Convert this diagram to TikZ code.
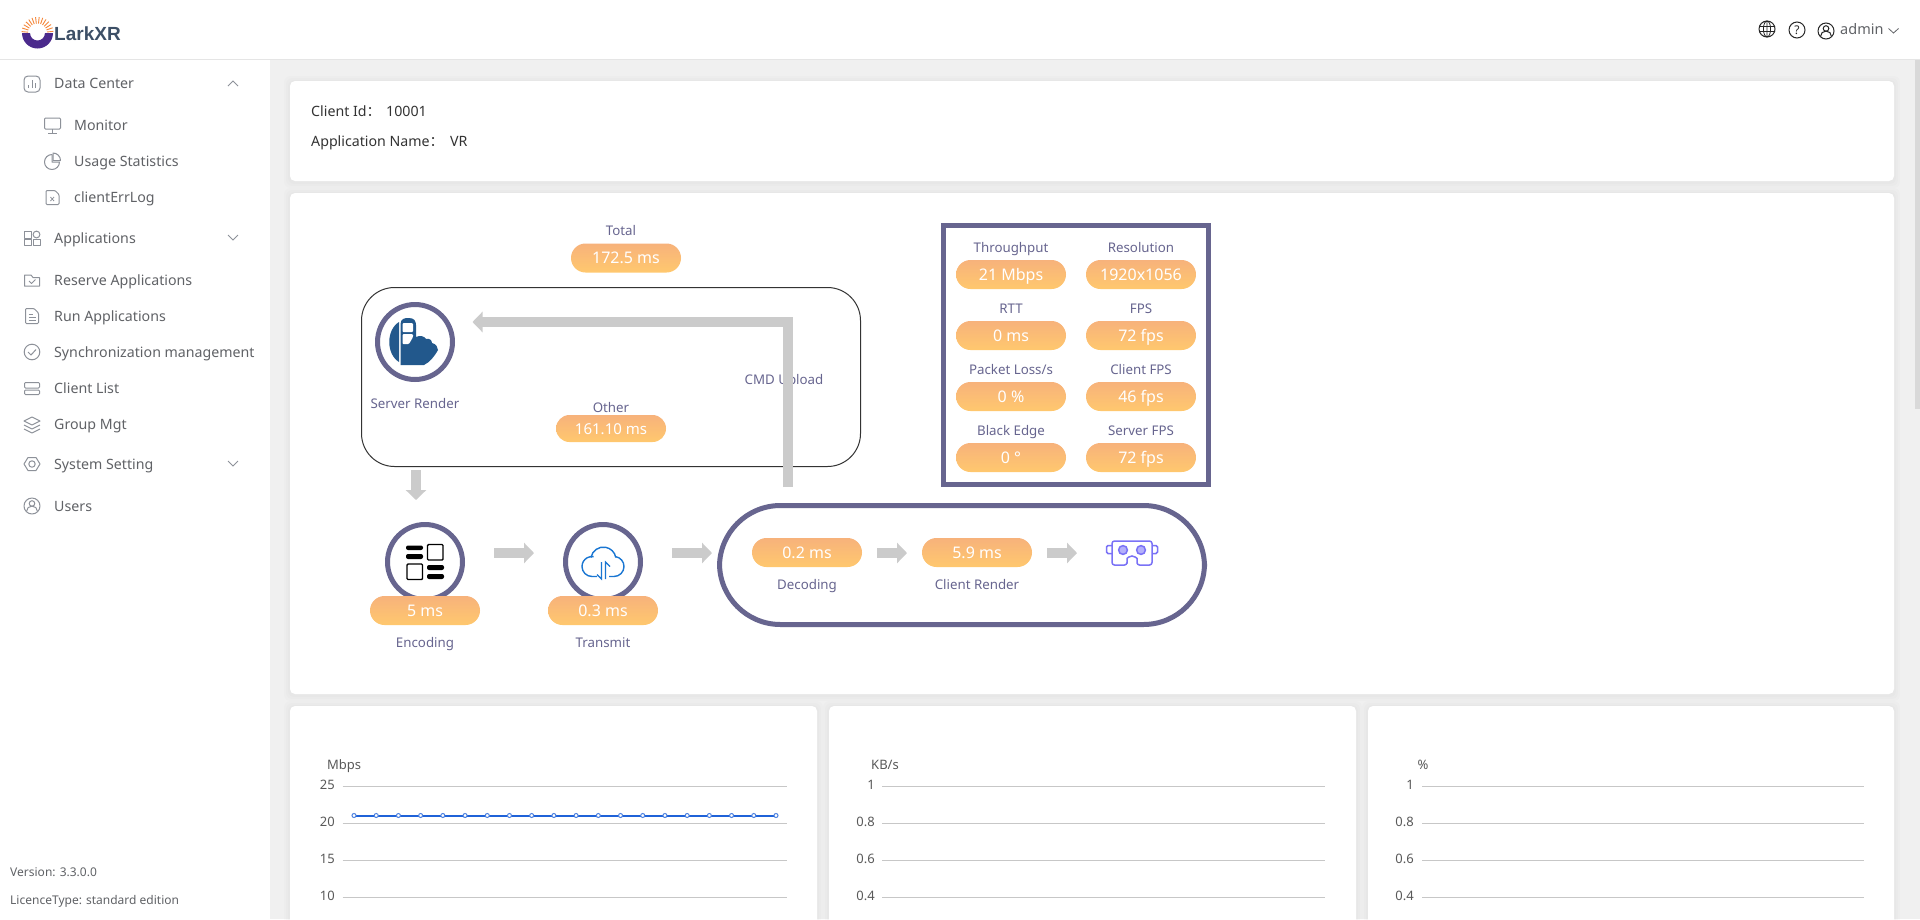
\documentclass[tikz,border=0pt]{standalone}
\usepackage{fontspec}
\setmainfont{Noto Sans}
\newfontfamily\cjk{Noto Sans CJK SC}
\newfontfamily\brandf{Liberation Sans}
\usetikzlibrary{arrows.meta,shadings}
\definecolor{pagebg}{HTML}{F0F0F0}
\definecolor{scrollc}{HTML}{D9D9D9}
\definecolor{ink}{HTML}{67658F}
\definecolor{flowgray}{HTML}{CBCBCB}
\definecolor{menu}{HTML}{606266}
\definecolor{iconc}{HTML}{8D9199}
\definecolor{pilltop}{HTML}{F7B27B}
\definecolor{pillbot}{HTML}{FFC86E}
\definecolor{vrc}{HTML}{7A72F6}
\definecolor{vrf}{HTML}{B4B0FB}
\definecolor{serverblue}{HTML}{22588C}
\definecolor{cloudblue}{HTML}{1976D2}
\definecolor{logop}{HTML}{4B2A8C}
\definecolor{logoo}{HTML}{F5873A}
\definecolor{logot}{HTML}{3D4F66}
\definecolor{serieblue}{HTML}{1F62D8}
\newcommand{\fs}[1]{\fontsize{#1}{#1}\selectfont}
\tikzset{
  txt/.style={inner sep=0pt,text height=13pt,text depth=3pt,font=\fs{14}},
  menuitem/.style={txt,anchor=west,text=menu,font=\fs{14.2}},
  lab/.style={txt,text=ink,font=\fs{13.3}},
  pillnode/.style={rounded corners=14.5pt,minimum width=110pt,minimum height=29pt,inner sep=0pt,
    top color=pilltop,bottom color=pillbot,text=white,font=\fs{16},text height=11.5pt,text depth=0pt},
  flow/.style={draw=flowgray,line width=10pt,-{Triangle[length=10pt,width=20pt,color=flowgray]}},
  ring/.style={circle,draw=ink,line width=5pt,minimum size=75pt,inner sep=0pt,fill=white},
  ico/.style={draw=iconc,line width=1pt,line join=round},
  grid line/.style={draw=black!22,line width=1pt},
  axis/.style={txt,text=black!65,font=\fs{13}},
}
\newcommand{\card}[4]{%
  \foreach \g in {6,4,2}{\fill[black,opacity=0.012,rounded corners=6pt] (#1-\g,#2-\g+1) rectangle (#3+\g,#4+\g+1);}
  \fill[white,rounded corners=5pt] (#1,#2) rectangle (#3,#4);}
\begin{document}
\begin{tikzpicture}[x=1pt,y=-1pt]
\useasboundingbox (0,0) rectangle (1920,919);
\fill[pagebg] (0,0) rectangle (1920,919);
% cards
\card{290}{81}{1894}{181}
\card{290}{193}{1894}{694}
\card{290}{706}{817}{930}
\card{829}{706}{1356}{930}
\card{1368}{706}{1894}{930}
% scrollbar
\fill[scrollc] (1915,59) rectangle (1920,409);
% sidebar and header
\fill[white] (0,0) rectangle (270,919);
\fill[white] (0,0) rectangle (1920,59);
\draw[black!10,line width=1pt] (0,59.5) -- (1920,59.5);
% logo
\begin{scope}[shift={(37.5,33)}]
 \fill[logop] (-15.5,0) arc[start angle=180,end angle=0,radius=15.5] -- (7.5,0) arc[start angle=0,end angle=180,radius=7.5] -- cycle;
 \foreach \a in {185,198,...,355}{\draw[logoo,line width=0.9pt] (\a:9.5) -- (\a:16);}
\end{scope}
\node[anchor=west,inner sep=0pt,text=logot,font=\fs{19}\brandf\bfseries,text height=14pt,text depth=0pt] (brand) at (54,33.5) {LarkXR};
% top right
\draw[black!85,line width=1pt] (1767,29) circle (8);
\draw[black!85,line width=0.8pt] (1767,29) ellipse (3.6 and 8) (1759,26.5) -- (1775,26.5) (1759,31.5) -- (1775,31.5) (1767,21) -- (1767,37);
\draw[black!85,line width=1pt] (1797,30) circle (8);
\node[inner sep=0pt,font=\fs{12},text=black!85] (helpmark) at (1797,30) {?};
\draw[black!85,line width=1pt] (1826,31) circle (8);
\draw[black!85,line width=1pt] (1826,28.5) circle (2.8);
\draw[black!85,line width=1pt] (1820.5,36.5) arc[start angle=180,end angle=360,radius=5.5];
\node[menuitem,font=\fs{14.5}] (admin) at (1840,29) {admin};
\draw[menu,line width=0.8pt] (1888.5,28.5) -- (1893.5,33) -- (1898.5,28.5);
% sidebar items
\node[menuitem] (m1) at (54,83) {Data Center};
\node[menuitem] (m2) at (74,125) {Monitor};
\node[menuitem] (m3) at (74,161) {Usage Statistics};
\node[menuitem] (m4) at (74,197) {clientErrLog};
\node[menuitem] (m5) at (54,238) {Applications};
\node[menuitem] (m6) at (54,280) {Reserve Applications};
\node[menuitem] (m7) at (54,316) {Run Applications};
\node[menuitem] (m8) at (54,352) {Synchronization management};
\node[menuitem] (m9) at (54,388) {Client List};
\node[menuitem] (m10) at (54,424) {Group Mgt};
\node[menuitem] (m11) at (54,464) {System Setting};
\node[menuitem] (m12) at (54,506) {Users};
\node[menuitem,font=\fs{12}] (ver) at (10,871) {Version: 3.3.0.0};
\node[menuitem,font=\fs{12}] (lic) at (10,899) {LicenceType: standard edition};
% chevrons
\draw[iconc,line width=0.8pt] (228,86) -- (233,81) -- (238,86);
\draw[iconc,line width=0.8pt] (228,235) -- (233,240) -- (238,235);
\draw[iconc,line width=0.8pt] (228,461) -- (233,466) -- (238,461);
% sidebar icons
\draw[ico,rounded corners=4pt] (24,76) rectangle (40,92);
\draw[ico] (28.5,88) -- (28.5,85) (32,88) -- (32,80) (35.5,88) -- (35.5,83);
\draw[ico,rounded corners=1pt] (44.5,118) rectangle (60.5,129);
\draw[ico] (52.5,129) -- (52.5,133) (48,133) -- (57,133);
\draw[ico] (59.5,162) arc[start angle=0,end angle=270,radius=7.5] -- (52,162) -- cycle;
\draw[ico] (53,153) arc[start angle=-90,end angle=0,radius=7.5] -- (53,160.5) -- cycle;
\draw[ico,rounded corners=1pt] (46,190.5) -- (55,190.5) -- (59,194.5) -- (59,204.5) -- (46,204.5) -- cycle;
\draw[ico,line width=0.8pt] (50.5,197) -- (54,201) (54,197) -- (50.5,201);
\draw[ico] (24.5,231.5) rectangle (31,238) (33,239.5) rectangle (40,245.5) (24.5,239.5) rectangle (31,245.5);
\draw[ico] (36.5,234.5) circle (3.4);
\draw[ico] (24.5,275) -- (31,275) -- (33,277.5) -- (39.5,277.5) -- (39.5,286) -- (24.5,286) -- cycle;
\draw[ico,line width=0.8pt] (29,281) -- (31.5,283.5) -- (35.5,279.5);
\draw[ico,rounded corners=1pt] (25.5,308.5) -- (34,308.5) -- (38.5,313) -- (38.5,323.5) -- (25.5,323.5) -- cycle;
\draw[ico,line width=0.8pt] (28.5,314) -- (33,314) (28.5,317) -- (35.5,317) (28.5,320) -- (35.5,320);
\draw[ico] (32,352) circle (7.8);
\draw[ico] (28,352) -- (31,355) -- (36,349.5);
\draw[ico,rounded corners=1pt] (24.5,382.5) rectangle (39.5,388) (24.5,390) rectangle (39.5,394.5);
\draw[ico] (32,417) -- (40,421) -- (32,425) -- (24,421) -- cycle;
\draw[ico] (24,425) -- (32,429) -- (40,425) (24,429) -- (32,433) -- (40,429);
\draw[ico] (28,457.5) -- (36,457.5) -- (40,464) -- (36,470.5) -- (28,470.5) -- (24,464) -- cycle;
\draw[ico] (32,464) circle (3.2);
\draw[ico] (32,506) circle (8);
\draw[ico] (32,503.5) circle (2.8);
\draw[ico] (26.5,511.5) arc[start angle=180,end angle=360,radius=5.5];
% info card
\node[menuitem,text=black!80] (cid) at (311,111) {Client Id{\cjk ：}};
\node[menuitem,text=black!80] (cidv) at (386,111) {10001};
\node[menuitem,text=black!80] (app) at (311,141) {Application Name{\cjk ：}};
\node[menuitem,text=black!80] (appv) at (450,141) {VR};
% server box
\draw[black!80,line width=1pt,rounded corners=33pt] (361.5,287.5) rectangle (860.5,466.5);
\node[lab] (total) at (621,230) {Total};
\node[pillnode] (totalv) at (626,258) {172.5 ms};
\node[ring] (server) at (415,342) {};
\fill[serverblue] (399,322) .. controls (386,330) and (386,354) .. (399,362) -- cycle;
\fill[serverblue] (400.5,365) -- (400.5,324) .. controls (400.5,319) and (405,317.5) .. (409,318) .. controls (414,318) and (416,321) .. (416,325) -- (416,337)
  .. controls (420,335) and (424,336) .. (426,339) .. controls (429,338) and (432,340) .. (432,343) .. controls (436,344) and (438,347) .. (438,350)
  .. controls (434,357) and (430,362) .. (424,365) -- cycle;
\fill[white,rounded corners=1pt] (402.5,323) rectangle (413,332);
\fill[white,rounded corners=1pt] (402.5,334) -- (413,334) -- (413,337) -- (409,344) -- (402.5,344) -- cycle;
\node[lab] (serverl) at (415,403) {Server Render};
\node[lab] (other) at (611,407) {Other};
\node[pillnode,minimum height=27pt,rounded corners=13.5pt,font=\fs{15},text height=11pt] (otherv) at (611,428.5) {161.10 ms};
\node[lab] (cmd) at (784,379) {CMD Upload};
\coordinate (cmdstart) at (788,487);
\coordinate (cmdend) at (472.5,322);
\draw[flow] (cmdstart) |- (cmdend);
\coordinate (downa) at (416,470);
\coordinate (downb) at (416,500);
\draw[flow] (downa) -- (downb);
% encoding
\node[ring] (enc) at (425,562) {};
\fill[black,rounded corners=2pt] (406,545.5) rectangle (423,550) (406,554) rectangle (423,559) (427,565) rectangle (444,570) (427,574) rectangle (444,579);
\draw[black,line width=1.4pt,rounded corners=1pt] (427.5,544.5) rectangle (443,560) (407,564) rectangle (422.5,579.5);
\node[pillnode] (encv) at (425,610.5) {5 ms};
\node[lab] (encl) at (425,642) {Encoding};
% transmit
\node[ring] (trans) at (603,562) {};
\draw[cloudblue,line width=1.4pt] (597,576.5) -- (592,576.5) arc[start angle=90,end angle=280,radius=10];
\draw[cloudblue,line width=1.4pt] (591,557.5) arc[start angle=190,end angle=350,radius=12.6];
\draw[cloudblue,line width=1.4pt] (609,576.5) -- (614,576.5) arc[start angle=90,end angle=-80,radius=10];
\draw[cloudblue,line width=1.2pt] (601.5,562) -- (601.5,579) -- (597,574.5);
\draw[cloudblue,line width=1.2pt] (605.5,579) -- (605.5,562) -- (610,566.5);
\node[pillnode] (transv) at (603,610.5) {0.3 ms};
\node[lab] (transl) at (603,642) {Transmit};
\coordinate (a1s) at (494,553);
\coordinate (a1e) at (534,553);
\draw[flow] (a1s) -- (a1e);
\coordinate (a2s) at (672,553);
\coordinate (a2e) at (712,553);
\draw[flow] (a2s) -- (a2e);
% client capsule
\draw[ink,line width=5pt,rounded corners=61pt] (719.5,505.5) rectangle (1204.5,624.5);
\node[pillnode] (decv) at (807,552.5) {0.2 ms};
\node[lab] (decl) at (807,584) {Decoding};
\node[pillnode] (renv) at (977,552.5) {5.9 ms};
\node[lab] (renl) at (977,584) {Client Render};
\coordinate (a3s) at (877,553);
\coordinate (a3e) at (907,553);
\draw[flow] (a3s) -- (a3e);
\coordinate (a4s) at (1047,553);
\coordinate (a4e) at (1077,553);
\draw[flow] (a4s) -- (a4e);
% headset
\draw[vrc,line width=1.5pt,rounded corners=1.5pt] (1112,545.5) -- (1106.5,545.5) -- (1106.5,553.5) -- (1112,553.5);
\draw[vrc,line width=1.5pt,rounded corners=1.5pt] (1152,545.5) -- (1157.5,545.5) -- (1157.5,553.5) -- (1152,553.5);
\draw[vrc,line width=1.5pt,rounded corners=2.5pt] (1112,541) -- (1152,541) -- (1152,565) -- (1137,565) -- (1137,561) arc[start angle=0,end angle=-180,radius=5] -- (1127,565) -- (1112,565) -- cycle;
\draw[vrc,fill=vrf,line width=1.5pt] (1123,550) circle (4.4) (1141,550) circle (4.4);
% stats box
\draw[ink,line width=5pt] (943.5,225.5) rectangle (1208.5,484.5);
\node[lab] (l1) at (1011,247) {Throughput};
\node[pillnode] (v1) at (1011,274.5) {21 Mbps};
\node[lab] (l2) at (1141,247) {Resolution};
\node[pillnode] (v2) at (1141,274.5) {1920x1056};
\node[lab] (l3) at (1011,308) {RTT};
\node[pillnode] (v3) at (1011,335.5) {0 ms};
\node[lab] (l4) at (1141,308) {FPS};
\node[pillnode] (v4) at (1141,335.5) {72 fps};
\node[lab] (l5) at (1011,369) {Packet Loss/s};
\node[pillnode] (v5) at (1011,396.5) {0 \%};
\node[lab] (l6) at (1141,369) {Client FPS};
\node[pillnode] (v6) at (1141,396.5) {46 fps};
\node[lab] (l7) at (1011,430) {Black Edge};
\node[pillnode] (v7) at (1011,457.5) {0 °};
\node[lab] (l8) at (1141,430) {Server FPS};
\node[pillnode] (v8) at (1141,457.5) {72 fps};
% charts
\foreach \y in {786,823,860,897}{
  \draw[grid line] (342.5,\y) -- (787,\y);
  \draw[grid line] (882,\y) -- (1325,\y);
  \draw[grid line] (1422,\y) -- (1864,\y);
}
\node[axis] (u1) at (344,764) {Mbps};
\node[axis] (u2) at (885,764) {KB/s};
\node[axis] (u3) at (1423,764) {\%};
\foreach \lab/\y [count=\i] in {25/784,20/821,15/858,10/895}{\node[axis,anchor=east] (ya\i) at (335,\y) {\lab};}
\foreach \lab/\y [count=\i] in {1/784,0.8/821,0.6/858,0.4/895}{
  \node[axis,anchor=east] (yb\i) at (875,\y) {\lab};
  \node[axis,anchor=east] (yc\i) at (1414,\y) {\lab};}
\draw[serieblue,line width=2pt] (354,815.5) -- (776,815.5);
\foreach \i in {0,...,19}{\draw[serieblue!80,fill=white,line width=1pt] ({354+\i*22.21},815.5) circle (2);}
\end{tikzpicture}
\end{document}
